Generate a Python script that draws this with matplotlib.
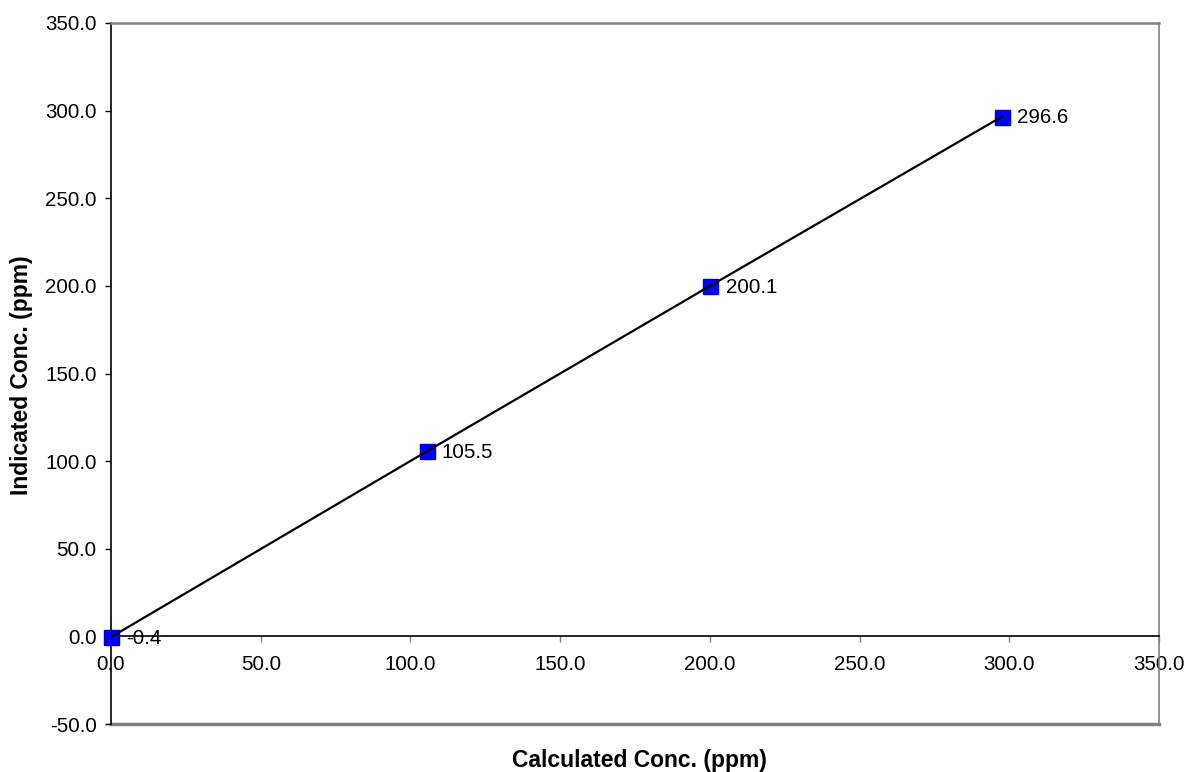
import matplotlib
matplotlib.use("Agg")
from matplotlib import pyplot as plt

# values
calc_conc = [0.0, 105.4, 200.2, 297.6]
indicated_conc = [-0.4, 105.5, 200.1, 296.6]
point_labels = ["-0.4", "105.5", "200.1", "296.6"]
x_ticks = [0, 50, 100, 150, 200, 250, 300, 350]
y_ticks = [-50, 0, 50, 100, 150, 200, 250, 300, 350]

plt.rcParams['font.family'] = ['Liberation Sans', 'DejaVu Sans']

fig = plt.figure(figsize=(11.87, 7.72), dpi=100)
ax = fig.add_axes([111 / 1187, 1 - 724 / 772, (1159 - 111) / 1187, (724 - 23) / 772])

# markers under the line, like the original
ax.plot(calc_conc, indicated_conc, linestyle='none', marker='s', markersize=10.8,
        markerfacecolor='#0000FF', markeredgecolor='#0000CC', zorder=3, clip_on=False)
ax.plot(calc_conc, indicated_conc, color='black', linewidth=1.6, zorder=4)

for x, y, lab in zip(calc_conc, indicated_conc, point_labels):
    ax.annotate(lab, (x, y), xytext=(11, -1), textcoords='offset points',
                ha='left', va='center', fontsize=14.8, zorder=6)

ax.set_xlim(0, 350)
ax.set_ylim(-50, 350)
ax.set_xticks(x_ticks)
ax.set_yticks(y_ticks)
ax.set_xticklabels([f"{v:.1f}" for v in x_ticks])
ax.set_yticklabels([f"{v:.1f}" for v in y_ticks])

ax.spines['bottom'].set_position(('data', 0))
ax.spines['bottom'].set_color('black')
ax.spines['bottom'].set_linewidth(1.2)
ax.spines['left'].set_color('black')
ax.spines['left'].set_linewidth(1.2)
ax.spines['top'].set_color('#808080')
ax.spines['right'].set_color('#808080')
ax.spines['top'].set_linewidth(1.8)
ax.spines['right'].set_linewidth(1.2)
ax.axhline(-50, color='#808080', linewidth=2.5, clip_on=False, zorder=1)

ax.tick_params(axis='y', direction='out', length=4.3, width=1, labelsize=14.8, pad=6)
ax.tick_params(axis='x', direction='out', length=4.3, width=1, color='#808080',
               labelsize=14.8, pad=9)

fig.text(639 / 1187, 1 - 760 / 772, "Calculated Conc. (ppm)", ha='center', va='center',
         fontsize=16.5, fontweight='bold')
fig.text(22 / 1187, 1 - 375 / 772, "Indicated Conc. (ppm)", ha='center', va='center',
         rotation=90, fontsize=16.5, fontweight='bold')

fig.savefig("out.png", dpi=100)
